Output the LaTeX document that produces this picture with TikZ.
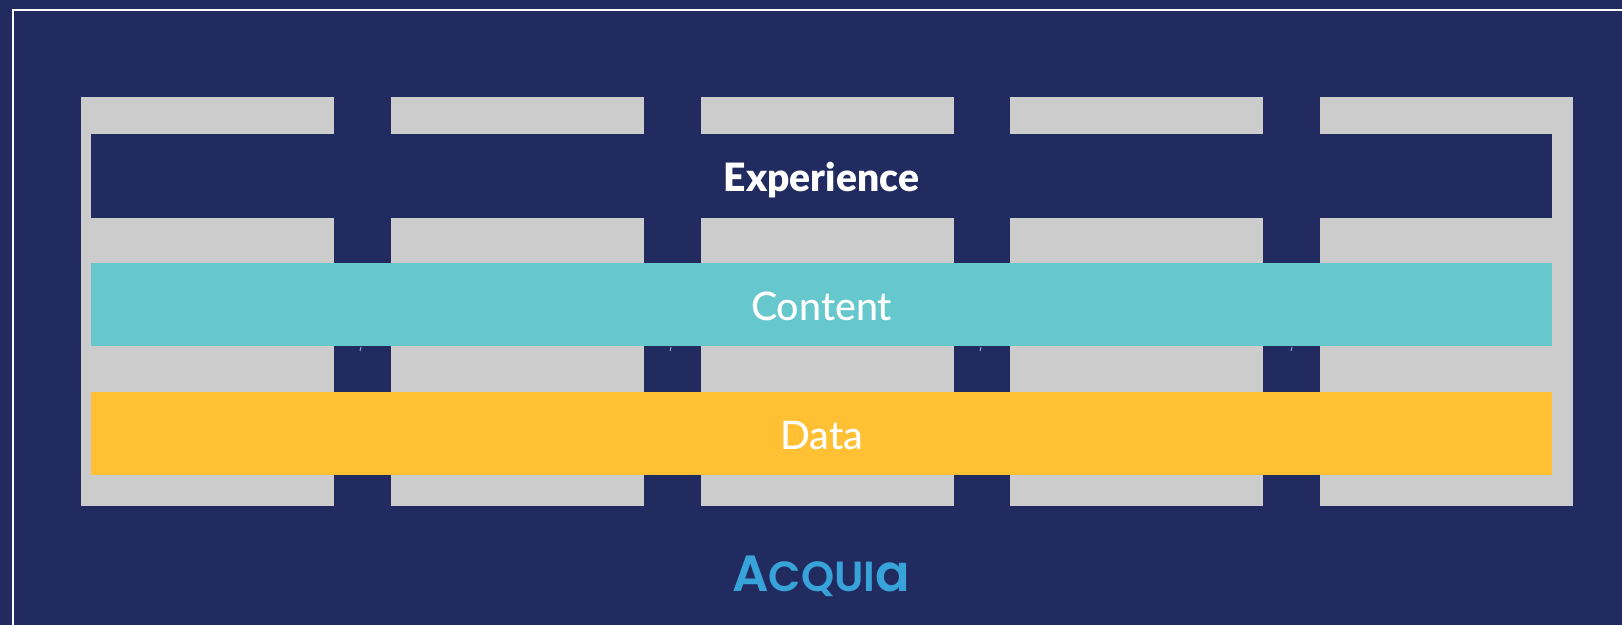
\documentclass[tikz,border=0pt]{standalone}
\usepackage{fontspec}
\setmainfont{Lato Medium}[BoldFont={Lato Black}]
\newfontfamily\logofont{Poppins SemiBold}
\definecolor{navy}{HTML}{212B60}
\definecolor{lightgrey}{HTML}{CCCCCC}
\definecolor{teal}{HTML}{66C8CC}
\definecolor{amber}{HTML}{FFC133}
\definecolor{logoblue}{HTML}{38A3D8}
\definecolor{tickgrey}{HTML}{9AA6C0}
\tikzset{
    column/.style={fill=lightgrey, inner sep=0pt, minimum width=5.06cm, minimum height=8.18cm},
    band/.style={inner sep=0pt, minimum width=29.22cm, minimum height=1.68cm, text height=18pt, text depth=0pt, text=white, font=\fontsize{22.4}{26}\selectfont}
}

\begin{document}
\begin{tikzpicture}[x=0.02cm, y=-0.02cm]

        % Declare the background
        \useasboundingbox (0, 0) rectangle (1622, 625);
        \fill[navy] (0, 0) rectangle (1622, 625);
        \draw[white, line width=0.05cm] (13, 625) -- (13, 10) -- (1622, 10);

        % Declare the columns
        \foreach \name/\x in {c1/207.5, c2/517.5, c3/827.5, c4/1136.5, c5/1446.5}
            \node[column] at (\x, 301.5) (\name) {};

        % Declare the small marks under the teal band
        \foreach \x in {361, 671, 981, 1292}
            \draw[tickgrey, line width=0.02cm] (\x, 347) -- (\x - 1, 351);

        % Declare the bands
        \node[band, fill=navy, font=\bfseries\fontsize{22.2}{26}\selectfont] at (821.5, 176) (experience) {Experience};
        \node[band, fill=teal] at (821.5, 304.5) (content) {Content};
        \node[band, fill=amber] at (821.5, 433.5) (data) {Data};

        % Declare the logo
        \node[text=logoblue, font=\logofont\fontsize{29}{34}\selectfont, inner sep=0pt] at (821, 576) (logo)
            {A{\fontsize{24}{34}\selectfont CQUI}a};

    \end{tikzpicture}
\end{document}
